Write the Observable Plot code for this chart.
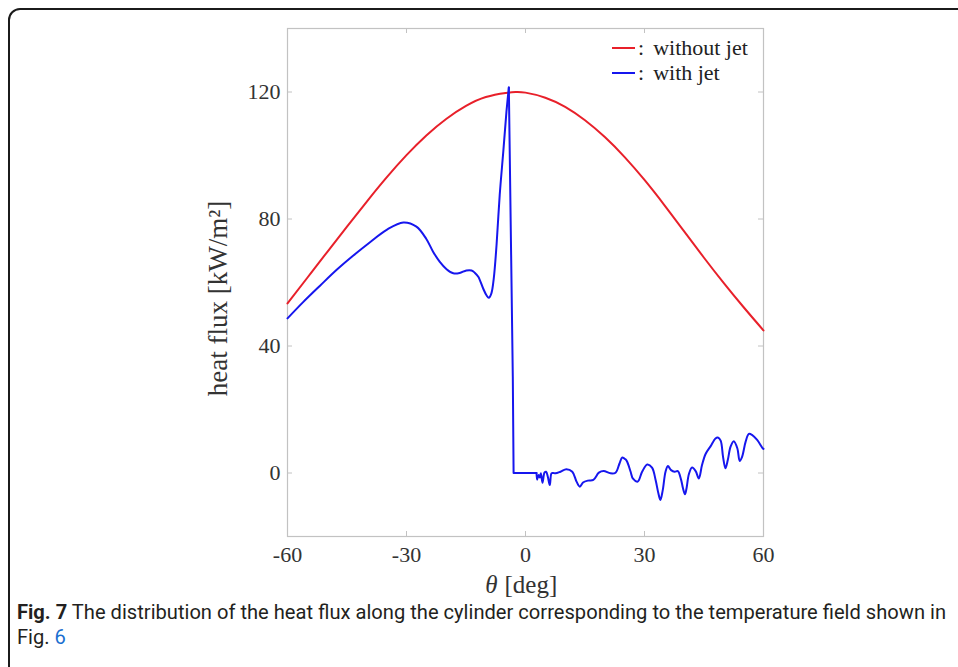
<!DOCTYPE html>
<html><head><meta charset="utf-8">
<script src="https://cdn.jsdelivr.net/npm/d3@7"></script>
<script src="https://cdn.jsdelivr.net/npm/@observablehq/plot@0.6"></script>
<style>
html,body{margin:0;padding:0;background:#fff;overflow:hidden;width:958px;height:667px;}
#wrap{position:relative;width:958px;height:667px;overflow:hidden;}
#border{position:absolute;left:8px;top:8px;width:1100px;height:900px;border:2px solid #1b1b1b;border-radius:12px;box-sizing:border-box;}
#chart{position:absolute;left:0;top:0;}
#legend{position:absolute;left:612px;top:35px;font-family:'Liberation Serif',serif;font-size:22px;color:#222;}
.row{display:flex;align-items:center;height:25px;white-space:nowrap;}
.sw{width:23px;height:0;border-top:2px solid;}
.colon{margin-left:3px;}
.lbl{margin-left:9px;}
#caption{position:absolute;left:17px;top:600px;font-family:Roboto,sans-serif;font-size:21px;line-height:25px;color:#231f20;}
.cl{white-space:nowrap;transform-origin:0 0;display:inline-block;}
.fig{font-weight:bold;}
.link{color:#1a6fd0;}
</style></head><body>
<div id="wrap">
  <div id="border"></div>
  <div id="chart"></div>
  <div id="legend"></div>
  <div id="caption"></div>
</div>
<script>
// ---- data ----
const xTicks = [-60, -30, 0, 30, 60];
const xTickLabels = ["-60", "-30", "0", "30", "60"];
const yTicks = [0, 40, 80, 120];
const yTickLabels = ["0", "40", "80", "120"];

const seriesNames = ["without jet", "with jet"];
const seriesColors = ["#e8202a", "#1616ee"];

// without jet
const redTheta = [-60,-55,-50,-45,-40,-35,-30,-25,-20,-15,-10,-5,-2.5,0,5,10,15,20,25,30,35,40,45,50,55,60];
const redFlux  = [53.4,61.5,69.6,77.6,85.5,93.1,100.1,106.3,111.5,115.6,118.4,119.7,120,119.8,118.2,115.3,111.1,105.8,99.5,92.3,84.4,76.1,67.8,59.8,52.2,44.9];

// with jet: upstream part (-60 to the spike)
const blueUpTheta = [-60,-56,-51.8,-47.6,-43.4,-39.2,-35,-30.8,-27.5,-25,-23.3,-21.6,-19.9,-18.2,-16.6,-14.9,-13.6,-12.8,-11.9,-10.7,-9.8,-9.25,-8.6,-8.0,-7.3,-6.5,-5.6,-4.8,-4.2];
const blueUpFlux  = [48.7,53.9,59,64,68.5,72.7,76.6,78.9,77.6,73.7,69.7,66.5,64.2,62.9,63,63.8,63.8,63.1,61.8,58.2,55.9,55.2,56.6,61.3,71.8,87.6,101.2,113.8,121.4];

// with jet: drop after the spike
const blueDropTheta = [-4.2,-3.2,-3.0,2.77];
const blueDropFlux  = [121.4,30.3,0,0];

// with jet: wake part
const blueWakeTheta = [2.77,2.94,3.28,3.6,3.87,4.29,4.79,5.2,5.63,6.13,6.55,6.97,7.56,8.8,10.3,11.8,12.9,13.7,14.5,15.7,17.1,18.5,19.7,21.4,22.7,23.7,24.4,25.2,25.6,26.5,27.1,28.3,29.4,30.7,31.9,32.8,33.5,34.0,34.6,35.3,35.9,36.7,37.6,38.4,39.2,39.7,40.2,40.6,41.2,42.0,42.9,43.7,44.5,45.4,46.6,47.9,48.5,49.2,49.8,50.4,51.0,51.7,52.5,53.4,54.0,54.6,55.5,56.3,57.1,58.4,59.8,60];
const blueWakeFlux  = [0,-2.1,-0.6,-1.4,-0.1,-3.1,0.1,0.4,-1.2,-3.8,-0.1,0,-0.1,0.4,1.2,0.4,-2.8,-4.3,-3.0,-2.4,-2.2,0.1,0.6,-0.1,0.1,3.0,4.9,4.3,3.6,0.4,-1.8,-2.7,0.4,2.7,1.7,-2.2,-6.4,-8.5,-5.4,0.4,2.2,0.9,0.4,0.6,-2.0,-4.8,-6.7,-4.8,-0.3,1.7,0.6,-1.7,2.5,6.0,8.3,10.9,11.2,10.2,5.1,1.5,4.1,8.3,10.0,7.8,3.8,5.1,9.9,12.3,12.0,10.4,7.8,7.6];

const captionBold = "Fig. 7";
const captionText = " The distribution of the heat flux along the cylinder corresponding to the temperature field shown in";
const captionLine2 = "Fig. ";
const captionLink = "6";

// ---- build ----
const rows = (ts, vs) => ts.map((t, i) => ({theta: t, flux: vs[i]}));
const red = rows(redTheta, redFlux);
const blueUp = rows(blueUpTheta, blueUpFlux);
const blueDrop = rows(blueDropTheta, blueDropFlux);
const blueWake = rows(blueWakeTheta, blueWakeFlux);

const axisColor = "#c2c2c2";
const textColor = "#333";

const chart = Plot.plot({
  width: 958, height: 600,
  marginLeft: 287, marginRight: 195, marginTop: 28, marginBottom: 64,
  x: {domain: [-60, 60]},
  y: {domain: [-20, 140]},
  style: {fontFamily: "'Liberation Serif', serif", fontSize: "22px", color: textColor, background: "transparent"},
  marks: [
    Plot.frame({stroke: axisColor, strokeWidth: 1.2}),
    Plot.tickX(xTicks, {x: d => d, insetTop: 503, stroke: axisColor}),
    Plot.tickX(xTicks, {x: d => d, insetBottom: 503, stroke: axisColor}),
    Plot.tickY(yTicks, {y: d => d, insetRight: 471, stroke: axisColor}),
    Plot.tickY(yTicks, {y: d => d, insetLeft: 471, stroke: axisColor}),
    Plot.axisX(xTicks, {anchor: "bottom", tickSize: 0, tickPadding: 10, label: null, fill: textColor, fontSize: 22,
      tickFormat: d => xTickLabels[xTicks.indexOf(d)]}),
    Plot.axisY(yTicks, {anchor: "left", tickSize: 0, tickPadding: 7, label: null, fill: textColor, fontSize: 22,
      tickFormat: d => yTickLabels[yTicks.indexOf(d)]}),
    Plot.text(["θ"], {frameAnchor: "bottom", textAnchor: "end", lineAnchor: "middle", dx: -28, dy: 48, fontSize: 25, fontStyle: "italic", fill: textColor}),
    Plot.text(["[deg]"], {frameAnchor: "bottom", textAnchor: "start", lineAnchor: "middle", dx: -21, dy: 48, fontSize: 25, fill: textColor}),
    Plot.text(["heat flux [kW/m²]"], {frameAnchor: "left", textAnchor: "middle", lineAnchor: "middle", rotate: -90, dx: -69, dy: 16, fontSize: 27, fill: textColor}),
    Plot.line(red, {x: "theta", y: "flux", stroke: seriesColors[0], strokeWidth: 2, curve: "natural"}),
    Plot.line(blueUp, {x: "theta", y: "flux", stroke: seriesColors[1], strokeWidth: 2, curve: "catmull-rom"}),
    Plot.line(blueDrop, {x: "theta", y: "flux", stroke: seriesColors[1], strokeWidth: 2, curve: "linear"}),
    Plot.line(blueWake, {x: "theta", y: "flux", stroke: seriesColors[1], strokeWidth: 2, curve: "catmull-rom"})
  ]
});
document.getElementById("chart").appendChild(chart);

// legend
const legend = document.getElementById("legend");
seriesNames.forEach((name, i) => {
  const row = document.createElement("div");
  row.className = "row";
  const sw = document.createElement("span");
  sw.className = "sw"; sw.style.borderTopColor = seriesColors[i];
  const c = document.createElement("span"); c.className = "colon"; c.textContent = ":";
  const l = document.createElement("span"); l.className = "lbl"; l.textContent = name;
  row.append(sw, c, l);
  legend.appendChild(row);
});

// caption
const cap = document.getElementById("caption");
const l1 = document.createElement("div");
const l1in = document.createElement("span"); l1in.className = "cl";
const b = document.createElement("span"); b.className = "fig"; b.textContent = captionBold;
l1in.append(b, document.createTextNode(captionText));
l1.appendChild(l1in);
const l2 = document.createElement("div");
const l2in = document.createElement("span"); l2in.className = "cl";
const lk = document.createElement("span"); lk.className = "link"; lk.textContent = captionLink;
l2in.append(document.createTextNode(captionLine2), lk);
l2.appendChild(l2in);
cap.append(l1, l2);
function fit() {
  l1in.style.transform = "none"; l2in.style.transform = "none";
  const w = l1in.getBoundingClientRect().width;
  const k = 929 / w;
  l1in.style.transform = `scaleX(${k})`;
  l2in.style.transform = `scaleX(${k})`;
}
fit();
if (document.fonts && document.fonts.ready) document.fonts.ready.then(fit);
</script>
</body></html>
